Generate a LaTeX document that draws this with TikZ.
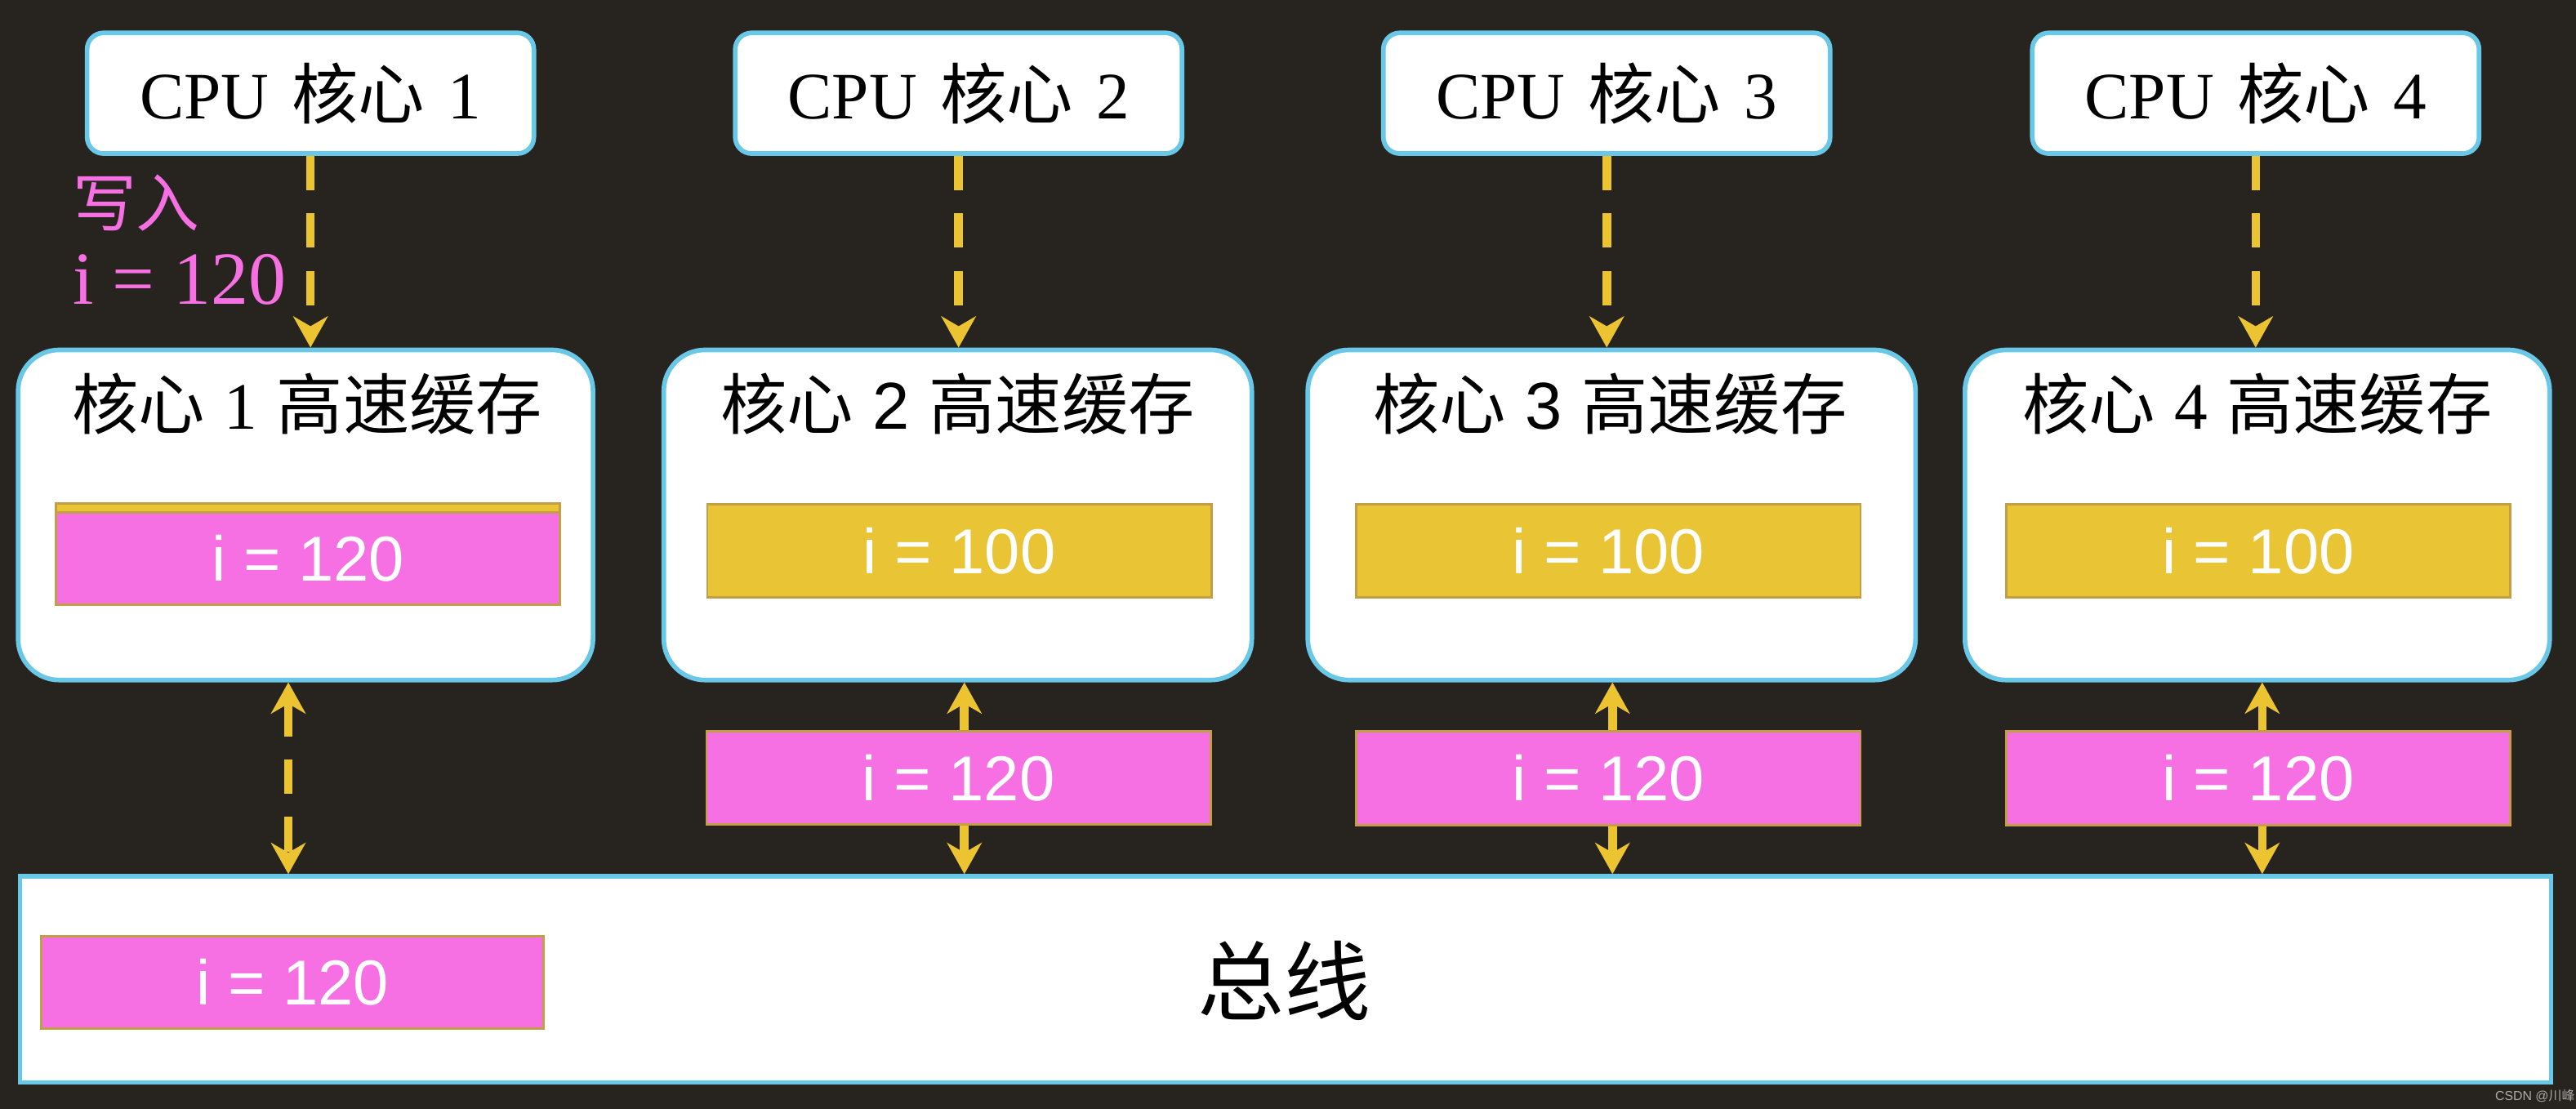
\documentclass[tikz,border=0pt]{standalone}
\usepackage{fontspec}
\setmainfont{Liberation Serif}
\newfontfamily\cjk{Noto Sans CJK SC}
\newfontfamily\barfont{Liberation Sans}
\usetikzlibrary{arrows.meta}
\definecolor{bgc}{RGB}{39,35,31}
\definecolor{glowc}{RGB}{105,200,232}
\definecolor{pinkc}{RGB}{246,112,228}
\definecolor{yellowc}{RGB}{233,196,52}
\definecolor{barc}{RGB}{196,158,70}
\definecolor{arrowc}{RGB}{236,196,50}
\definecolor{wmc}{RGB}{170,170,170}
\begin{document}
\begin{tikzpicture}[x=0.02cm,y=-0.02cm,
  cpubox/.style={draw=glowc, line width=1.6pt, fill=white, rounded corners=0.2cm,
    minimum width=5.44cm, minimum height=1.47cm, inner sep=0pt,
    font=\fontsize{23}{26}\selectfont},
  cachebox/.style={draw=glowc, line width=1.6pt, fill=white, rounded corners=0.5cm,
    minimum height=4.02cm, inner sep=0pt},
  cachelabel/.style={inner sep=0pt, font=\fontsize{23}{26}\selectfont},
  valbar/.style={draw=barc, line width=0.8pt, minimum width=6.14cm, minimum height=1.13cm,
    inner sep=0pt, text=white, font=\barfont\fontsize{22}{24}\selectfont},
  ybar/.style={valbar, fill=yellowc},
  pbar/.style={valbar, fill=pinkc},
  tipstyle/.tip={Stealth[inset=0.12cm,length=0.38cm,width=0.42cm]},
  flow/.style={draw=arrowc, line width=3pt, dash pattern=on 0.42cm off 0.28cm, -tipstyle},
  flowboth/.style={draw=arrowc, line width=3pt, dash pattern=on 0.42cm off 0.28cm, tipstyle-tipstyle},
  solidflow/.style={draw=arrowc, line width=3pt, -tipstyle},
]
\fill[bgc] (0,0) rectangle (1568,675);
\useasboundingbox (0,0) rectangle (1568,675);

% CPU cores
\node[cpubox] (cpu1) at (189,56.75) {CPU\hspace{0.35em}{\cjk 核心}\hspace{0.35em}1};
\node[cpubox] (cpu2) at (583.5,56.75) {CPU\hspace{0.35em}{\cjk 核心}\hspace{0.35em}2};
\node[cpubox] (cpu3) at (978,56.75) {CPU\hspace{0.35em}{\cjk 核心}\hspace{0.35em}3};
\node[cpubox] (cpu4) at (1373,56.75) {CPU\hspace{0.35em}{\cjk 核心}\hspace{0.35em}4};

% caches
\node[cachebox, minimum width=7.0cm] (cache1) at (186,313.5) {};
\node[cachebox, minimum width=7.16cm] (cache2) at (583,313.5) {};
\node[cachebox, minimum width=7.4cm] (cache3) at (981,313.5) {};
\node[cachebox, minimum width=7.12cm] (cache4) at (1374,313.5) {};

\node[cachelabel] (lab1) at (187,246) {{\cjk 核心}\hspace{0.29em}1\hspace{0.29em}{\cjk 高速缓存}};
\node[cachelabel] (lab2) at (583,246) {{\cjk 核心}\hspace{0.29em}{\barfont 2}\hspace{0.29em}{\cjk 高速缓存}};
\node[cachelabel] (lab3) at (980,246) {{\cjk 核心}\hspace{0.29em}{\barfont 3}\hspace{0.29em}{\cjk 高速缓存}};
\node[cachelabel] (lab4) at (1374,246) {{\cjk 核心}\hspace{0.29em}4\hspace{0.29em}{\cjk 高速缓存}};

% values inside caches
\node[ybar, minimum height=1.23cm] (old1) at (187.5,337.3) {};
\node[pbar, minimum height=1.12cm] (val1) at (187.5,340) {i = 120};
\node[ybar] (val2) at (584,335.25) {i = 100};
\node[ybar] (val3) at (979,335.25) {i = 100};
\node[ybar] (val4) at (1374.5,335.25) {i = 100};

% values travelling on the bus
\node[pbar, minimum height=1.14cm] (mid2) at (583.5,473.5) {i = 120};
\node[pbar, minimum height=1.14cm] (mid3) at (979,473.75) {i = 120};
\node[pbar, minimum height=1.14cm] (mid4) at (1374.5,473.75) {i = 120};

% bus
\node[draw=glowc, line width=1.6pt, fill=white, minimum width=30.82cm, minimum height=2.51cm,
  inner sep=0pt] (bus) at (782.5,596.25) {};
\node[font=\cjk\fontsize{30}{32}\selectfont, inner sep=0pt] (buslab) at (782,597) {总线};
\node[pbar, minimum width=6.12cm, minimum height=1.12cm] (buspink) at (178,598) {i = 120};

% write label
\node[anchor=west, inner sep=0pt, text=pinkc, font=\cjk\fontsize{22}{24}\selectfont] (wr1) at (44,123.5) {写入};
\node[anchor=west, inner sep=0pt, text=pinkc, font=\fontsize{26}{28}\selectfont] (wr2) at (44,170) {i = 120};

% connectors
\draw[flow] (cpu1.south) -- (cpu1.south |- cache1.north);
\draw[flow] (cpu2.south) -- (cpu2.south |- cache2.north);
\draw[flow] (cpu3.south) -- (cpu3.south |- cache3.north);
\draw[flow] (cpu4.south) -- (cpu4.south |- cache4.north);

\draw[flowboth] ([xshift=-0.05cm]buspink.north |- cache1.south) -- ([xshift=-0.05cm]buspink.north |- bus.north);

\draw[solidflow] ([xshift=0.07cm]mid2.north) -- ([xshift=0.07cm]mid2.north |- cache2.south);
\draw[flow] ([xshift=0.07cm]mid2.south) -- ([xshift=0.07cm]mid2.south |- bus.north);
\draw[solidflow] ([xshift=0.05cm]mid3.north) -- ([xshift=0.05cm]mid3.north |- cache3.south);
\draw[flow] ([xshift=0.05cm]mid3.south) -- ([xshift=0.05cm]mid3.south |- bus.north);
\draw[solidflow] ([xshift=0.05cm]mid4.north) -- ([xshift=0.05cm]mid4.north |- cache4.south);
\draw[flow] ([xshift=0.05cm]mid4.south) -- ([xshift=0.05cm]mid4.south |- bus.north);

% watermark
\node[text=wmc, font=\barfont\fontsize{4.5}{5}\selectfont, inner sep=0pt] (wm) at (1543,667) {CSDN @{\cjk 川峰}};
\end{tikzpicture}
\end{document}
